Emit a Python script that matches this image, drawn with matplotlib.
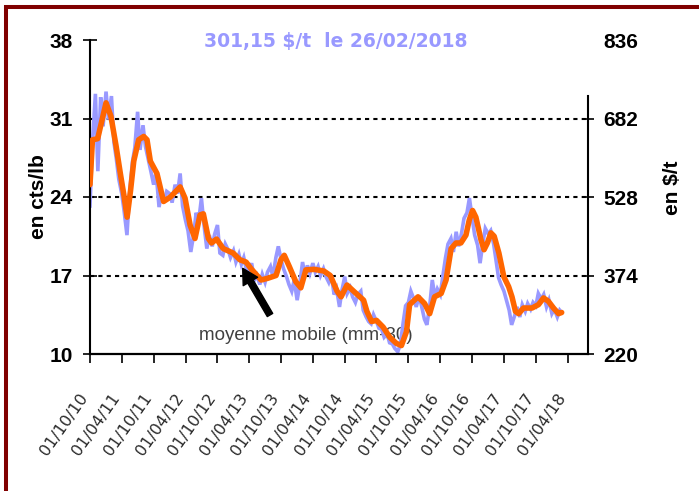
import matplotlib
matplotlib.use('Agg')
import matplotlib.pyplot as plt
from matplotlib.patches import Rectangle
from matplotlib.transforms import ScaledTranslation
import pandas as pd

plt.rcParams['font.family'] = ['Liberation Sans', 'DejaVu Sans']

# moyenne mobile 30 jours, cts/lb
mm_dates = ['2010-10-01', '2010-10-15', '2010-11-14', '2011-01-01', '2011-01-29', '2011-02-27',
            '2011-03-25', '2011-04-13', '2011-05-02', '2011-05-21', '2011-06-09', '2011-07-07',
            '2011-08-05', '2011-08-24', '2011-09-12', '2011-10-20', '2011-11-27', '2012-01-05',
            '2012-03-01', '2012-03-29', '2012-04-27', '2012-05-25', '2012-06-23', '2012-07-12',
            '2012-08-10', '2012-08-28', '2012-09-26', '2012-11-03', '2012-12-30', '2013-02-07',
            '2013-03-14', '2013-04-12', '2013-06-08', '2013-07-16', '2013-09-02', '2013-09-30',
            '2013-10-19', '2013-11-17', '2013-12-24', '2014-01-22', '2014-02-20', '2014-04-07',
            '2014-06-03', '2014-07-10', '2014-08-18', '2014-09-10', '2014-10-14', '2014-11-21',
            '2015-01-17', '2015-02-05', '2015-03-04', '2015-04-01', '2015-05-09', '2015-06-16',
            '2015-07-24', '2015-08-22', '2015-09-20', '2015-10-08', '2015-11-25', '2016-01-02',
            '2016-01-31', '2016-02-28', '2016-04-06', '2016-05-04', '2016-06-02', '2016-06-30',
            '2016-07-28', '2016-08-26', '2016-09-14', '2016-10-03', '2016-10-22', '2016-11-20',
            '2016-12-08', '2016-12-27', '2017-01-16', '2017-02-04', '2017-03-03', '2017-03-31',
            '2017-04-28', '2017-05-17', '2017-06-06', '2017-06-24', '2017-07-22', '2017-09-09',
            '2017-10-16', '2017-11-14', '2017-12-12', '2018-01-10', '2018-02-08', '2018-02-26']
mm_vals = [25.1, 29.1, 29.2, 32.4, 31.2, 28.6,
           26.0, 24.2, 22.2, 24.5, 27.2, 29.1,
           29.4, 29.1, 27.2, 26.1, 23.6, 24.0,
           24.9, 23.9, 21.5, 20.3, 22.4, 22.5,
           20.3, 19.9, 20.25, 19.4, 19.0, 18.4,
           18.2, 17.6, 16.6, 16.75, 17.0, 18.4,
           18.8, 17.8, 16.45, 15.9, 17.5, 17.55,
           17.4, 17.0, 15.6, 15.1, 16.15, 15.6,
           14.8, 13.8, 12.9, 13.0, 12.4, 11.5,
           10.95, 10.75, 12.0, 14.4, 15.1, 14.5,
           13.6, 15.1, 15.4, 16.6, 19.4, 19.9,
           19.9, 20.6, 21.95, 22.8, 22.2, 20.2,
           19.3, 19.9, 20.8, 20.5, 19.0, 16.9,
           16.0, 15.1, 13.8, 13.6, 14.1, 14.1,
           14.4, 15.0, 14.7, 14.1, 13.6, 13.7]

# cours du jour, releve le 1er et le 15 de chaque mois, cts/lb
jour_vals = [
    23.2, 28.8, 33.2, 26.3, 32.9, 30.3,                      # 2010 oct-dec
    33.4, 30.9, 33.0, 28.9, 27.4, 25.6, 24.3, 22.7, 20.6, 24.2, 27.1, 28.4,
    31.6, 28.2, 30.4, 28.5, 27.3, 26.3, 25.1, 26.2, 23.1, 24.4, 23.6, 24.5,   # 2011
    24.3, 23.5, 25.1, 24.3, 26.1, 23.2, 21.9, 21.0, 19.1, 20.4, 22.6, 21.8,
    23.9, 21.6, 19.4, 20.6, 19.6, 20.7, 21.5, 19.0, 18.8, 19.8, 19.3, 18.6,   # 2012
    19.2, 18.2, 18.9, 18.0, 18.6, 17.6, 17.4, 18.1, 16.6, 17.0, 16.2, 17.1,
    16.4, 17.3, 17.8, 16.9, 18.6, 19.6, 18.4, 17.6, 16.9, 16.2, 15.6, 16.6,   # 2013
    14.8, 16.1, 18.2, 17.0, 17.9, 17.2, 18.1, 17.3, 17.8, 17.0, 17.6, 16.9,
    16.4, 17.1, 15.3, 15.8, 14.2, 15.7, 16.9, 15.4, 15.9, 15.1, 14.6, 15.3,   # 2014
    15.6, 13.9, 13.3, 12.9, 12.7, 13.5, 12.9, 12.3, 12.2, 11.5, 11.8, 11.0,
    10.9, 10.5, 10.2, 10.8, 12.8, 14.3, 14.6, 15.6, 14.9, 14.2, 15.2, 14.3,   # 2015
    13.1, 12.6, 14.4, 16.6, 15.1, 15.8, 15.3, 16.9, 18.6, 19.8, 20.3, 19.1,
    20.9, 19.6, 20.8, 22.1, 22.6, 23.9, 22.1, 20.6, 19.7, 18.1, 19.9, 21.2,   # 2016
    20.7, 21.0, 19.8, 18.3, 16.8, 16.2, 15.6, 14.8, 13.9, 12.6, 13.4, 14.2,
    13.3, 14.4, 13.8, 14.5, 14.0, 14.6, 14.3, 15.4, 14.9, 15.3, 14.2, 14.8,   # 2017
    13.6, 14.0, 13.3, 13.9, 13.69,                                            # 2018
]
jour_dates = list(pd.date_range('2010-10-01', '2018-02-15', freq='SMS')) + [pd.Timestamp('2018-02-26')]

tick_dates = pd.date_range('2010-10-01', '2018-04-01', freq='6MS')
left_ticks = [10, 17, 24, 31, 38]
right_ticks = [220, 374, 528, 682, 836]
titre = '301,15 $/t  le 26/02/2018'

fig = plt.figure(figsize=(6.99, 4.91), dpi=100)
W, H = 699, 491
ax = fig.add_axes([90 / W, 1 - 354 / H, (588 - 90) / W, (354 - 40) / H])

for v in left_ticks[1:-1]:
    ax.axhline(v, color='black', ls=(0, (2, 2)), lw=1.5, zorder=1)

ax.plot(pd.to_datetime(jour_dates), jour_vals, color='#9999FF', lw=2.6, zorder=2,
        solid_joinstyle='miter')
ax.plot(pd.to_datetime(mm_dates), mm_vals, color='#FF6600', lw=4.0, zorder=3,
        solid_joinstyle='round', solid_capstyle='round')

ax.set_ylim(10, 38)
ax.set_xlim(pd.Timestamp('2010-10-01'), pd.Timestamp('2018-07-27'))
ax.set_yticks(left_ticks)
ax.set_yticklabels([str(t) for t in left_ticks], fontsize=15, fontweight='bold')
ax.tick_params(axis='y', direction='inout', length=9.5, width=1.2, pad=7.5)
ax.set_xticks(tick_dates)
ax.set_xticklabels([d.strftime('%d/%m/%y') for d in tick_dates], rotation=55, ha='right',
                   va='center', rotation_mode='anchor', fontsize=11.5, family='DejaVu Sans',
                   color='#2a2a2a')
ax.tick_params(axis='x', direction='out', length=6.5, width=1.2, pad=23)
for lbl in ax.get_xticklabels():
    lbl.set_transform(lbl.get_transform() + ScaledTranslation(-5 / 100, 0, fig.dpi_scale_trans))
ax.spines['top'].set_visible(False)
ax.spines['right'].set_visible(False)
ax.spines['left'].set_linewidth(1.5)
ax.spines['bottom'].set_linewidth(1.6)

ax2 = ax.twinx()
ax2.set_ylim(220, 836)
ax2.set_yticks(right_ticks)
ax2.set_yticklabels([str(t) for t in right_ticks], fontsize=15, fontweight='bold')
ax2.tick_params(axis='y', direction='inout', length=8, width=1.2, pad=7)
ax2.yaxis.get_major_ticks()[-1].tick2line.set_visible(False)
for s in ['top', 'left', 'bottom']:
    ax2.spines[s].set_visible(False)
ax2.spines['right'].set_bounds(220, 726)
ax2.spines['right'].set_linewidth(1.5)

ax.text((306 - 90) / 498, (354 - 335) / 314, 'moyenne mobile (mm-30)', transform=ax.transAxes,
        fontsize=13.5, color='#404040', ha='center', va='center', zorder=1)
ax.annotate('', xy=((242.7 - 90) / 498, (354 - 268.3) / 314), xycoords='axes fraction',
            xytext=((270 - 90) / 498, (354 - 315) / 314), textcoords='axes fraction',
            arrowprops=dict(arrowstyle='simple,head_length=11,head_width=12,tail_width=4.5',
                            mutation_scale=1, color='black', shrinkA=0, shrinkB=0), zorder=4)

fig.text(38 / W, 1 - 197 / H, 'en cts/lb', rotation=90, fontsize=15, fontweight='bold',
         ha='center', va='center')
fig.text(672 / W, 1 - 188 / H, 'en $/t', rotation=90, fontsize=15, fontweight='bold',
         ha='center', va='center')
fig.text(336 / W, 1 - 41 / H, titre, color='#9999FF', fontsize=13.5, fontweight='bold',
         family='DejaVu Sans', ha='center', va='center')

fig.patches.append(Rectangle((5.5 / W, -0.1), 1.2, 1 - 6.5 / H + 0.1, transform=fig.transFigure,
                             fill=False, ec='#800000', lw=2.9))

fig.savefig('out.png', dpi=100)
